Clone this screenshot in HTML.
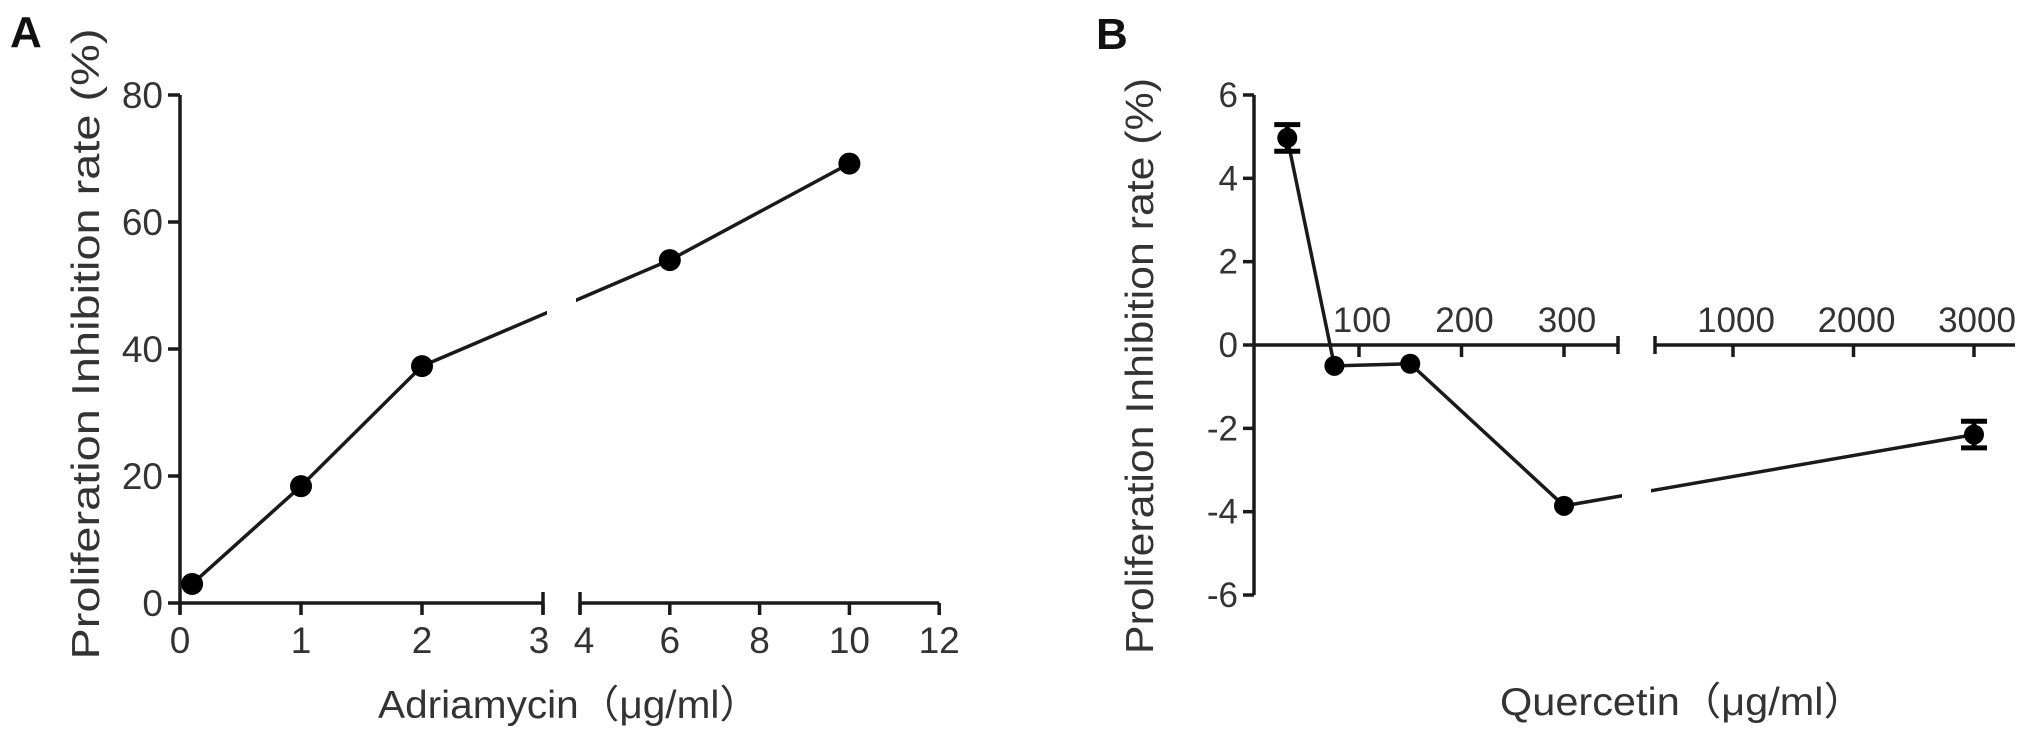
<!DOCTYPE html>
<html><head><meta charset="utf-8"><style>
html,body{margin:0;padding:0;background:#fff;}
svg{display:block;font-family:"Liberation Sans","Noto Sans CJK SC",sans-serif;}
</style></head><body>
<svg id="fig" width="2031" height="742" viewBox="0 0 2031 742" xmlns="http://www.w3.org/2000/svg">
<text x="10" y="47" font-size="44" font-weight="bold" fill="#111">A</text>
<text x="1096" y="49" font-size="44" font-weight="bold" fill="#111">B</text>
<text transform="translate(99,344) rotate(-90)" text-anchor="middle" font-size="39" fill="#333" textLength="631" lengthAdjust="spacingAndGlyphs">Proliferation Inhibition rate (%)</text>
<text transform="translate(1153,366) rotate(-90)" text-anchor="middle" font-size="39" fill="#333" textLength="576" lengthAdjust="spacingAndGlyphs">Proliferation Inhibition rate (%)</text>
<text x="378" y="718" font-size="39" fill="#333" textLength="382" lengthAdjust="spacingAndGlyphs">Adriamycin（μg/ml）</text>
<text x="1500" y="715" font-size="39" fill="#333" textLength="365" lengthAdjust="spacingAndGlyphs">Quercetin（μg/ml）</text>
<g id="gA"></g><g id="gB"></g>
</svg>
<script>
// Panel A data
const aDose = [0.1, 1, 2, 6, 10];
const aRate = [3.0, 18.4, 37.3, 54, 69.2];
const aYTicks = [0, 20, 40, 60, 80];
const aXTicksLeft = [0, 1, 2, 3];
const aXTicksRight = [4, 6, 8, 10, 12];
// Panel B data
const bDose = [30, 76, 150, 300, 3000];
const bRate = [4.97, -0.5, -0.45, -3.86, -2.15];
const bErr = [0.32, 0, 0, 0, 0.32];
const bYTicks = [6, 4, 2, 0, -2, -4, -6];
const bXTicksLeft = [100, 200, 300];
const bXTicksRight = [1000, 2000, 3000];

const NS = "http://www.w3.org/2000/svg";
function mk(parent, tag, attrs) {
  const e = document.createElementNS(NS, tag);
  for (const k in attrs) e.setAttribute(k, attrs[k]);
  parent.appendChild(e);
  return e;
}
const S = "#1a1a1a";
const W = 3.5;

// ---- Panel A ----
const gA = document.getElementById('gA');
const ayA = v => 603 - v * 6.35;
const axA = v => v <= 3 ? 180 + v * 121 : 580 + (v - 4) * 44.9;
let e;
e = mk(gA, 'line', {x1:180, y1:ayA(80), x2:180, y2:ayA(0) + 10, stroke:S, 'stroke-width':W});


aYTicks.forEach(v => {
  e = mk(gA, 'line', {x1:168, y1:ayA(v), x2:180, y2:ayA(v), stroke:S, 'stroke-width':W});
  
  
  e = mk(gA, 'text', {x:163, y:ayA(v) + 13, 'text-anchor':'end', 'font-size':37, fill:'#333'});
  e.textContent = v;
  
  
});
e = mk(gA, 'line', {x1:180, y1:603, x2:axA(3), y2:603, stroke:S, 'stroke-width':W});


e = mk(gA, 'line', {x1:axA(4), y1:603, x2:axA(12), y2:603, stroke:S, 'stroke-width':W});


e = mk(gA, 'line', {x1:axA(3), y1:592, x2:axA(3), y2:614, stroke:S, 'stroke-width':W});


e = mk(gA, 'line', {x1:axA(4), y1:592, x2:axA(4), y2:614, stroke:S, 'stroke-width':W});


aXTicksLeft.concat(aXTicksRight).forEach(v => {
  e = mk(gA, 'line', {x1:axA(v), y1:603, x2:axA(v), y2:615, stroke:S, 'stroke-width':W});
  
  
  const dx = v === 3 ? -4 : (v === 4 ? 4 : 0);
  e = mk(gA, 'text', {x:axA(v) + dx, y:653, 'text-anchor':'middle', 'font-size':37, fill:'#333'});
  e.textContent = v;
  
  
});
e = mk(gA, 'polyline', {points: aDose.map((d, i) => axA(d) + ',' + ayA(aRate[i])).join(' '), fill:'none', stroke:S, 'stroke-width':W});


e = mk(gA, 'rect', {x:547, y:0, width:29, height:585, fill:'#fff'});


aDose.forEach((d, i) => {
  e = mk(gA, 'circle', {cx:axA(d), cy:ayA(aRate[i]), r:11, fill:'#000'});
  
  
});

// ---- Panel B ----
const gB = document.getElementById('gB');
const ayB = v => 345 - v * 41.67;
const axB = v => v <= 350 ? 1256.5 + v * 1.025 : 1733 + (v - 1000) * 0.1205;
e = mk(gB, 'line', {x1:1254, y1:ayB(6), x2:1254, y2:ayB(-6), stroke:S, 'stroke-width':W});


bYTicks.forEach(v => {
  e = mk(gB, 'line', {x1:1243, y1:ayB(v), x2:1254, y2:ayB(v), stroke:S, 'stroke-width':W});
  
  
  e = mk(gB, 'text', {x:1238, y:ayB(v) + 12, 'text-anchor':'end', 'font-size':35, fill:'#333'});
  e.textContent = v;
  
  
});
e = mk(gB, 'line', {x1:1254, y1:345, x2:1618, y2:345, stroke:S, 'stroke-width':W});


e = mk(gB, 'line', {x1:1655, y1:345, x2:2015, y2:345, stroke:S, 'stroke-width':W});


e = mk(gB, 'line', {x1:1618, y1:336, x2:1618, y2:354, stroke:S, 'stroke-width':W});


e = mk(gB, 'line', {x1:1655, y1:336, x2:1655, y2:354, stroke:S, 'stroke-width':W});


bXTicksLeft.concat(bXTicksRight).forEach(v => {
  e = mk(gB, 'line', {x1:axB(v), y1:345, x2:axB(v), y2:357, stroke:S, 'stroke-width':W});
  
  
  e = mk(gB, 'text', {x:axB(v) + 3, y:332, 'text-anchor':'middle', 'font-size':35, fill:'#333'});
  e.textContent = v;
  
  
});
e = mk(gB, 'polyline', {points: bDose.map((d, i) => axB(d) + ',' + ayB(bRate[i])).join(' '), fill:'none', stroke:S, 'stroke-width':W});


e = mk(gB, 'rect', {x:1622, y:360, width:29, height:250, fill:'#fff'});


bDose.forEach((d, i) => {
  const x = axB(d), y = ayB(bRate[i]);
  if (bErr[i] > 0) {
    const t = ayB(bRate[i] + bErr[i]), b = ayB(bRate[i] - bErr[i]);
    e = mk(gB, 'path', {d:`M${x-13},${t}H${x+13}M${x},${t}V${b}M${x-13},${b}H${x+13}`, stroke:'#000', 'stroke-width':5, fill:'none'});
    
    
  }
  e = mk(gB, 'circle', {cx:x, cy:y, r:10, fill:'#000'});
  
  
});
</script>
</body></html>
